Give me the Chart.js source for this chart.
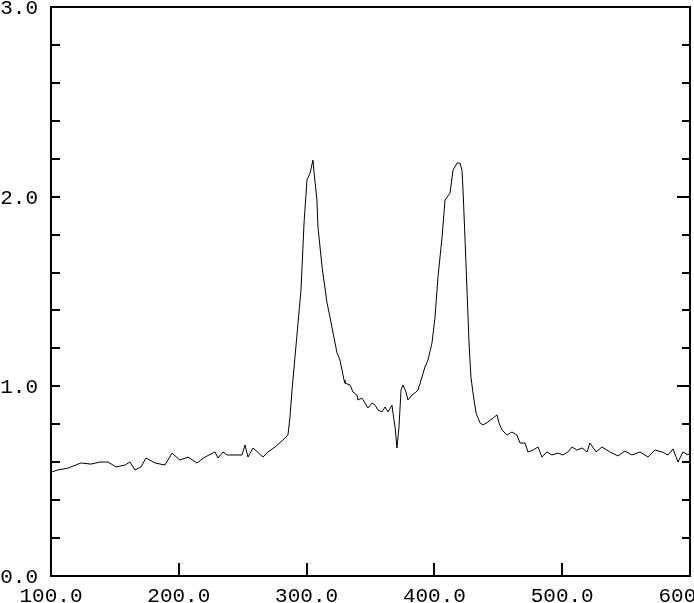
<!DOCTYPE html>
<html>
<head>
<meta charset="utf-8">
<script src="https://cdn.jsdelivr.net/npm/chart.js@4/dist/chart.umd.min.js"></script>
<style>
  html, body { margin: 0; padding: 0; background: #fff; }
  #wrap { width: 694px; height: 603px; }
</style>
</head>
<body>
<div id="wrap"><canvas id="grafico" width="694" height="603"></canvas></div>
<script>
// comprimento de onda (eixo x) e intensidade (eixo y)
const xValores = [
  100, 105.5, 113.3, 123.5, 131.3, 138.3, 144.6, 150.9, 157.9, 161.8,
  165.7, 170.4, 174.3, 181.4, 189.2, 194.7, 200.9, 207.2, 214.2, 220.5,
  228.3, 230.7, 234.6, 237.7, 249.5, 251.8, 254.1, 258.1, 265.9, 269.8,
  275.3, 281.5, 285.4, 287.0, 288.6, 290.9, 293.3, 295.6, 298.0, 300.3,
  302.7, 305.0, 305.8, 308.1, 308.9, 312.1, 316.0, 318.3, 320.7, 323.8,
  326.1, 329.3, 330.0, 334.0, 336.3, 339.4, 340.2, 343.3, 345.7, 348.0,
  351.2, 353.5, 355.9, 359.0, 361.4, 363.7, 366.8, 367.6, 369.2, 370.7,
  372.3, 373.9, 375.4, 377.8, 379.3, 382.5, 385.6, 387.2, 390.3, 392.6,
  395.0, 398.1, 400.5, 402.8, 406.0, 408.3, 412.2, 414.6, 417.7, 420.0,
  421.6, 422.4, 423.9, 425.5, 427.1, 428.6, 430.2, 432.6, 435.7, 438.0,
  441.9, 445.9, 449.0, 450.5, 452.9, 456.8, 460.7, 464.6, 467.0, 470.9,
  473.2, 477.2, 481.1, 484.2, 488.1, 492.0, 496.7, 500.6, 504.5, 507.7,
  511.6, 515.5, 519.4, 521.8, 526.5, 531.1, 537.4, 543.7, 549.1, 554.6,
  560.9, 567.1, 572.6, 578.1, 582.8, 586.7, 590.6, 594.5, 598.4, 600
];
const yValores = [
  0.548, 0.559, 0.569, 0.596, 0.590, 0.601, 0.601, 0.575, 0.585, 0.601,
  0.559, 0.575, 0.622, 0.596, 0.585, 0.648, 0.611, 0.627, 0.596, 0.627,
  0.654, 0.622, 0.654, 0.638, 0.638, 0.691, 0.627, 0.675, 0.627, 0.654,
  0.680, 0.717, 0.743, 0.838, 0.981, 1.154, 1.334, 1.508, 1.861, 2.088,
  2.124, 2.193, 2.130, 1.982, 1.840, 1.629, 1.439, 1.365, 1.281, 1.176,
  1.139, 1.033, 1.017, 1.007, 0.970, 0.954, 0.928, 0.938, 0.912, 0.886,
  0.912, 0.901, 0.875, 0.865, 0.891, 0.865, 0.901, 0.859, 0.785, 0.675,
  0.785, 0.981, 1.007, 0.970, 0.928, 0.954, 0.970, 0.981, 1.049, 1.102,
  1.139, 1.228, 1.365, 1.576, 1.787, 1.982, 2.019, 2.140, 2.177, 2.177,
  2.140, 2.035, 1.787, 1.508, 1.228, 1.049, 0.965, 0.859, 0.807, 0.796,
  0.812, 0.833, 0.849, 0.807, 0.770, 0.743, 0.759, 0.743, 0.701, 0.701,
  0.654, 0.664, 0.680, 0.627, 0.654, 0.638, 0.648, 0.638, 0.654, 0.680,
  0.664, 0.675, 0.654, 0.701, 0.654, 0.680, 0.654, 0.633, 0.659, 0.638,
  0.654, 0.627, 0.664, 0.654, 0.638, 0.670, 0.601, 0.654, 0.638, 0.648
];

// marcas dos eixos
const xRotulos = [100, 200, 300, 400, 500, 600];
const yRotulos = [0, 1, 2, 3];
const yMarcasMenores = [0, 0.2, 0.4, 0.6, 0.8, 1, 1.2, 1.4, 1.6, 1.8, 2, 2.2, 2.4, 2.6, 2.8, 3];

const pontos = xValores.map((x, i) => ({ x: x, y: yValores[i] }));

// desenha moldura, marcas e rótulos no estilo do gráfico original
const moldura = {
  id: 'moldura',
  afterDraw(chart) {
    const ctx = chart.ctx;
    const a = chart.chartArea;
    const sx = chart.scales.x, sy = chart.scales.y;
    ctx.save();
    ctx.strokeStyle = '#000';
    ctx.lineWidth = 2;
    ctx.strokeRect(a.left, a.top, a.right - a.left, a.bottom - a.top);

    ctx.lineWidth = 2;
    ctx.beginPath();
    yMarcasMenores.forEach(v => {
      const py = Math.round(sy.getPixelForValue(v));
      const maior = Math.abs(v - Math.round(v)) < 1e-6;
      const tamEsq = 9, tamDir = maior ? 13 : 8;
      ctx.moveTo(a.left, py); ctx.lineTo(a.left + tamEsq, py);
      ctx.moveTo(a.right, py); ctx.lineTo(a.right - tamDir, py);
    });
    xRotulos.forEach(v => {
      const px = Math.round(sx.getPixelForValue(v));
      ctx.moveTo(px, a.bottom); ctx.lineTo(px, a.bottom - 13);
    });
    ctx.stroke();

    ctx.fillStyle = '#000';
    ctx.font = '21px "Liberation Mono", "DejaVu Sans Mono", monospace';
    ctx.textAlign = 'right';
    ctx.textBaseline = 'alphabetic';
    yRotulos.forEach(v => {
      const py = sy.getPixelForValue(v);
      ctx.fillText(v.toFixed(1), 38, py + 7);
    });
    ctx.textAlign = 'center';
    xRotulos.forEach(v => {
      const px = sx.getPixelForValue(v);
      ctx.fillText(v.toFixed(1), px, 602);
    });
    ctx.restore();
  }
};

new Chart(document.getElementById('grafico').getContext('2d'), {
  type: 'line',
  data: {
    datasets: [{
      data: pontos,
      borderColor: '#000',
      borderWidth: 1,
      pointRadius: 0,
      tension: 0,
      fill: false
    }]
  },
  options: {
    responsive: false,
    animation: false,
    layout: { padding: { left: 51, right: 4, top: 7, bottom: 27 } },
    plugins: { legend: { display: false }, tooltip: { enabled: false } },
    scales: {
      x: { type: 'linear', min: 100, max: 600, display: false },
      y: { min: 0, max: 3, display: false }
    }
  },
  plugins: [moldura]
});
</script>
</body>
</html>
